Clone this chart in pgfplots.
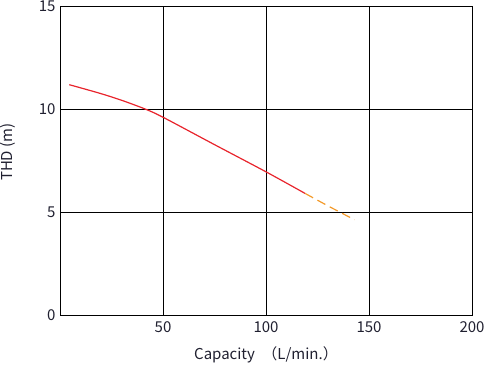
\documentclass[border=0pt]{standalone}
\usepackage{pgfplots}
\pgfplotsset{compat=1.18}
\usepackage{fontspec}
\setmainfont{Noto Sans CJK JP}
\definecolor{lred}{HTML}{E8242C}
\definecolor{lorange}{HTML}{F39A2A}
\definecolor{tk}{HTML}{202030}
\begin{document}
\begin{tikzpicture}
\useasboundingbox (0,0) rectangle (485bp,367bp);
\begin{axis}[
  at={(60bp,52bp)}, anchor=south west,
  scale only axis, width=412bp, height=309bp,
  xmin=0, xmax=200, ymin=0, ymax=15,
  xtick={50,100,150,200}, ytick={0,5,10,15},
  grid=major, major grid style={black, line width=0.8bp},
  axis line style={black, line width=0.9bp},
  tick style={draw=none},
  /pgf/number format/assume math mode=true,
  tick label style={font=\fontsize{15bp}{18bp}\selectfont, text=tk},
  xticklabel style={yshift=-3bp},
  yticklabel style={xshift=-1bp},
  label style={font=\fontsize{15bp}{18bp}\selectfont, text=tk},
  xlabel={Capacity\hspace{0.5em}（L/min.）},
  ylabel={THD (m)},
  xlabel style={at={(axis description cs:0.5,-0.129)}, anchor=center},
  ylabel style={at={(axis description cs:-0.126,0.527)}, anchor=center},
]
\addplot[lred, line width=1.2bp, smooth, tension=0.5] coordinates {
(4.5,11.18) (19.4,10.76) (30,10.42) (41.3,10.0) (50,9.6) (75,8.27) (100,6.95) (119,5.9)
};
\addplot[lorange, line width=1.2bp, dash pattern=on 9bp off 5bp] coordinates {
(119,5.9) (130,5.3) (143,4.62)
};
\end{axis}
\end{tikzpicture}
\end{document}
